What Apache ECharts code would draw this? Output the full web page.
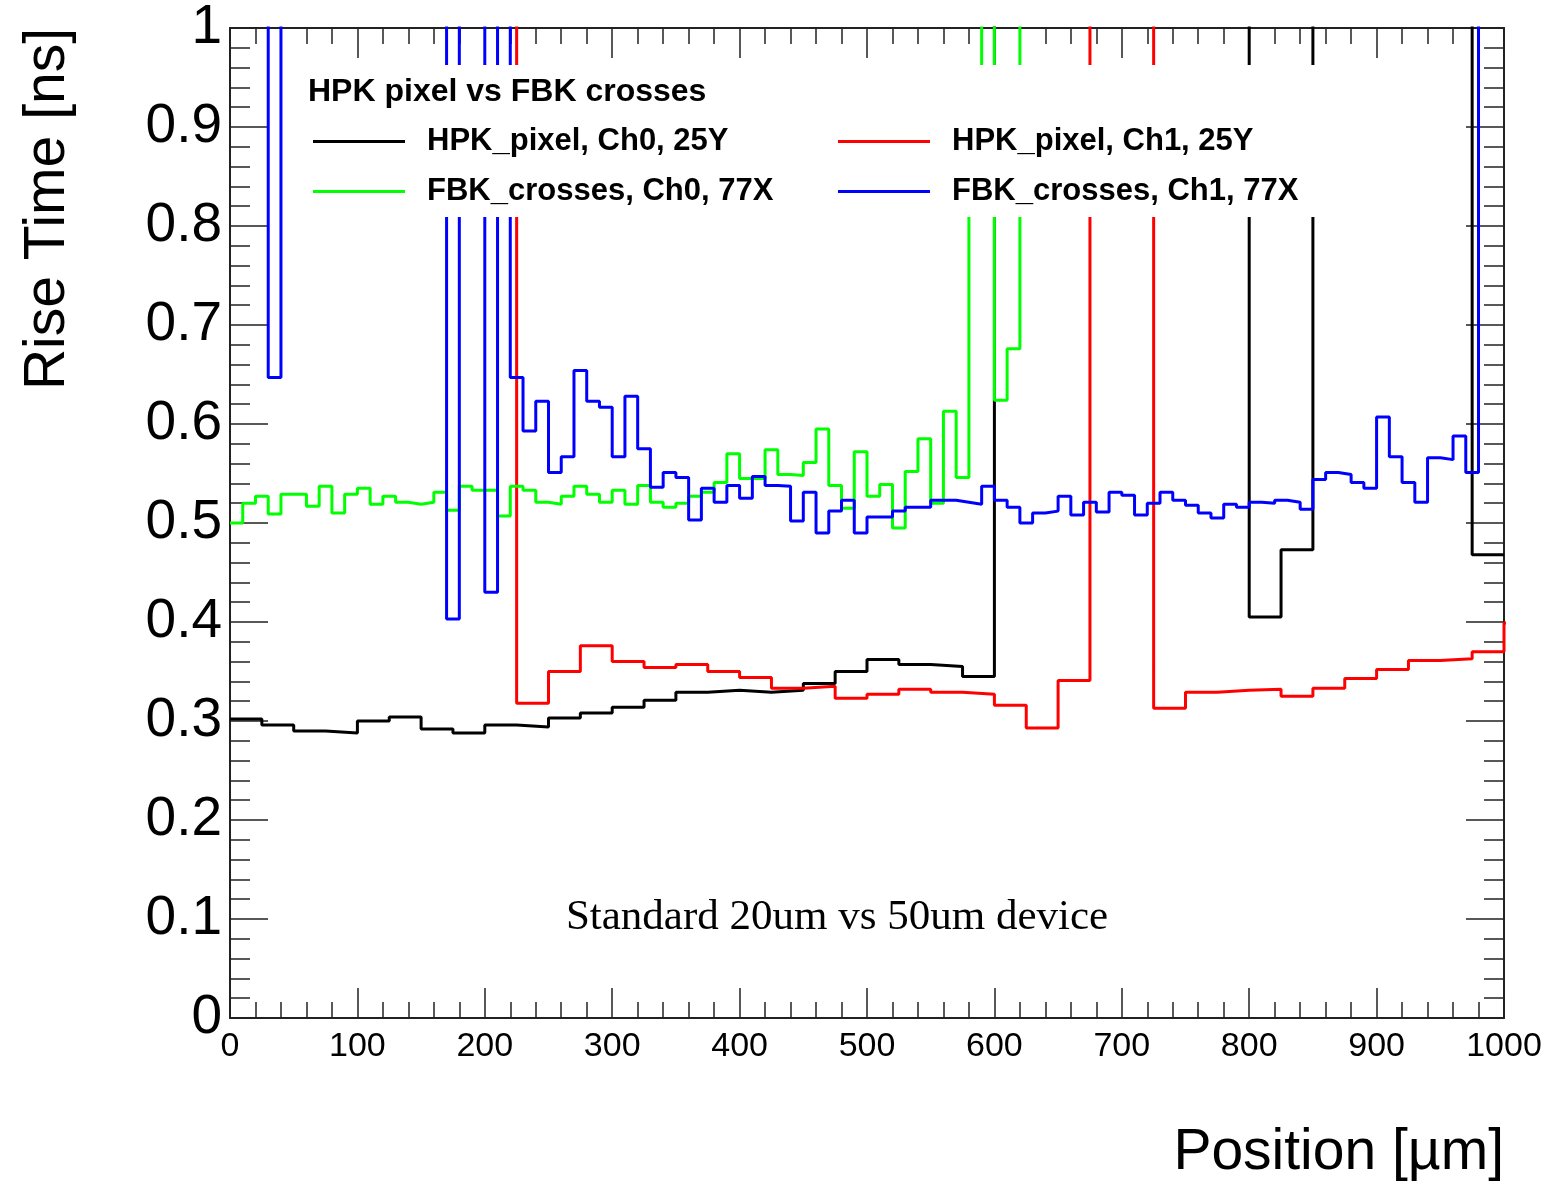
<!DOCTYPE html>
<html>
<head>
<meta charset="utf-8">
<script src="https://cdn.jsdelivr.net/npm/echarts@6/dist/echarts.min.js"></script>
<style>
html,body{margin:0;padding:0;background:#fff;}
#chart{width:1552px;height:1188px;}
</style>
</head>
<body>
<div id="chart"></div>
<script>
// Off-scale value (> 1 ns, above the plotted frame)
const OFF = 1.5;
const coarseBinWidth = 25; // HPK histograms
const fineBinWidth = 10;   // FBK histograms

const seriesNames = ['HPK_pixel, Ch0, 25Y', 'HPK_pixel, Ch1, 25Y', 'FBK_crosses, Ch0, 77X', 'FBK_crosses, Ch1, 77X'];
const seriesColors = ['#000000', '#ff0000', '#00ff00', '#0000ff'];

const hpkCh0 = [
  0.302, 0.296, 0.290, 0.288, 0.300, 0.304, 0.292, 0.288, 0.296, 0.294,
  0.303, 0.308, 0.314, 0.321, 0.329, 0.331, 0.329, 0.331, 0.338, 0.350,
  0.362, 0.357, 0.355, 0.345, OFF, OFF, OFF, OFF, OFF, OFF,
  OFF, OFF, 0.405, 0.473, OFF, OFF, OFF, OFF, OFF, 0.468
];
const hpkCh1 = [
  OFF, OFF, OFF, OFF, OFF, OFF, OFF, OFF, OFF, 0.318,
  0.350, 0.376, 0.360, 0.354, 0.357, 0.350, 0.344, 0.333, 0.335, 0.323,
  0.327, 0.332, 0.329, 0.327, 0.316, 0.293, 0.341, OFF, OFF, 0.313,
  0.329, 0.331, 0.332, 0.325, 0.333, 0.343, 0.352, 0.361, 0.363, 0.370,
  0.399
];
const fbkCh0 = [
  0.500, 0.520, 0.527, 0.509, 0.529, 0.529, 0.517, 0.537, 0.510, 0.529,
  0.535, 0.519, 0.527, 0.521, 0.519, 0.521, 0.531, 0.513, 0.537, 0.533,
  0.533, 0.507, 0.537, 0.533, 0.521, 0.519, 0.527, 0.537, 0.529, 0.521,
  0.533, 0.519, 0.538, 0.521, 0.516, 0.520, 0.527, 0.531, 0.541, 0.570,
  0.545, 0.545, 0.574, 0.549, 0.548, 0.561, 0.595, 0.538, 0.515, 0.572,
  0.527, 0.539, 0.495, 0.552, 0.585, 0.520, 0.613, 0.546, 0.880, OFF,
  0.624, 0.676, OFF, OFF, OFF, OFF, OFF, OFF, OFF, OFF,
  OFF, OFF, OFF, OFF, OFF, OFF, OFF, OFF, OFF, OFF,
  OFF, OFF, OFF, OFF, OFF, OFF, OFF, OFF, OFF, OFF,
  OFF, OFF, OFF, OFF, OFF, OFF, OFF, OFF, OFF, OFF
];
const fbkCh1 = [
  OFF, OFF, OFF, 0.647, OFF, OFF, OFF, OFF, OFF, OFF,
  OFF, OFF, OFF, OFF, OFF, OFF, OFF, 0.403, OFF, OFF,
  0.430, OFF, 0.647, 0.593, 0.623, 0.551, 0.567, 0.654, 0.623, 0.617,
  0.567, 0.628, 0.575, 0.536, 0.551, 0.546, 0.503, 0.535, 0.521, 0.538,
  0.525, 0.547, 0.538, 0.537, 0.502, 0.531, 0.490, 0.512, 0.523, 0.490,
  0.506, 0.506, 0.512, 0.516, 0.516, 0.523, 0.523, 0.521, 0.519, 0.537,
  0.523, 0.516, 0.500, 0.510, 0.512, 0.527, 0.508, 0.521, 0.511, 0.531,
  0.528, 0.508, 0.520, 0.531, 0.523, 0.518, 0.510, 0.505, 0.519, 0.516,
  0.521, 0.520, 0.523, 0.521, 0.514, 0.544, 0.551, 0.549, 0.541, 0.535,
  0.607, 0.567, 0.541, 0.521, 0.566, 0.564, 0.588, 0.551, OFF, OFF
];

const xTicks = {min: 0, max: 1000, interval: 100};
const yTicks = {min: 0, max: 1, interval: 0.1};

const titleText = 'HPK pixel vs FBK crosses';
const xTitle = 'Position [\u00b5m]';
const yTitle = 'Rise Time [ns]';
const noteText = 'Standard 20um vs 50um device';

// histogram -> step polyline points (bin low edges plus final upper edge)
function histPoints(vals, w) {
  const pts = vals.map((v, i) => [i * w, v]);
  pts.push([vals.length * w, vals[vals.length - 1]]);
  return pts;
}

const SANS = '"Liberation Sans", Arial, Helvetica, sans-serif';
const frameColor = '#222';

function xAxisCfg(pos, labels) {
  return {
    type: 'value', position: pos, min: xTicks.min, max: xTicks.max, interval: xTicks.interval,
    axisLine: {show: true, onZero: false, lineStyle: {color: frameColor, width: 2}},
    axisTick: {show: true, inside: true, length: 30, lineStyle: {color: frameColor, width: 1.5}},
    minorTick: {show: true, splitNumber: 5, length: 16, lineStyle: {color: frameColor, width: 1.5}},
    splitLine: {show: false}, minorSplitLine: {show: false},
    axisLabel: {show: labels, color: '#000', fontFamily: SANS, fontSize: 34, margin: 12,
      formatter: v => String(Math.round(v))}
  };
}
function yAxisCfg(pos, labels) {
  return {
    type: 'value', position: pos, min: yTicks.min, max: yTicks.max, interval: yTicks.interval,
    axisLine: {show: true, onZero: false, lineStyle: {color: frameColor, width: 2}},
    axisTick: {show: true, inside: true, length: 38, lineStyle: {color: frameColor, width: 1.5}},
    minorTick: {show: true, splitNumber: 5, length: 20, lineStyle: {color: frameColor, width: 1.5}},
    splitLine: {show: false}, minorSplitLine: {show: false},
    axisLabel: {show: labels, color: '#000', fontFamily: SANS, fontSize: 55, margin: 8,
      formatter: v => (Math.abs(v) < 1e-9 ? '0' : Math.abs(v - 1) < 1e-9 ? '1' : v.toFixed(1))}
  };
}

const histData = [
  histPoints(hpkCh0, coarseBinWidth),
  histPoints(hpkCh1, coarseBinWidth),
  histPoints(fbkCh0, fineBinWidth),
  histPoints(fbkCh1, fineBinWidth)
];

const series = seriesNames.map((name, k) => ({
  name: name, type: 'line', step: 'end', data: histData[k],
  xAxisIndex: 0, yAxisIndex: 0, clip: true,
  symbol: 'none', showSymbol: false, animation: false, silent: true,
  lineStyle: {color: seriesColors[k], width: 3}, itemStyle: {color: seriesColors[k]},
  z: 2 + k
}));

const legendPos = [[313, 126], [838, 126], [313, 176], [838, 176]];
const legends = seriesNames.map((name, k) => ({
  data: [name], left: legendPos[k][0], top: legendPos[k][1], z: 30,
  icon: 'rect', itemWidth: 92, itemHeight: 3, selectedMode: false, padding: 0,
  textStyle: {fontFamily: SANS, fontWeight: 'bold', fontSize: 31, color: '#000', padding: [0, 0, 0, 17]}
}));

const chart = echarts.init(document.getElementById('chart'), null, {renderer: 'canvas'});
chart.setOption({
  backgroundColor: '#fff',
  animation: false,
  grid: {left: 230, top: 28, right: 48, bottom: 170, containLabel: false},
  xAxis: [xAxisCfg('bottom', true), xAxisCfg('top', false)],
  yAxis: [yAxisCfg('left', true), yAxisCfg('right', false)],
  legend: legends,
  series: series,
  graphic: [
    {type: 'rect', z: 20, shape: {x: 296, y: 65, width: 1034, height: 152}, style: {fill: '#fff'}, silent: true},
    {type: 'text', z: 30, x: 308, y: 92, style: {text: titleText, font: 'bold 32px ' + SANS, fill: '#000', verticalAlign: 'middle', align: 'left'}},
    {type: 'text', z: 30, x: 48, y: 28, rotation: Math.PI / 2, style: {text: yTitle, font: '57px ' + SANS, fill: '#000', align: 'right', verticalAlign: 'middle'}},
    {type: 'text', z: 30, x: 1504, y: 1153, style: {text: xTitle, font: '57px ' + SANS, fill: '#000', align: 'right', verticalAlign: 'middle'}},
    {type: 'text', z: 30, x: 837, y: 918, style: {text: noteText, font: '43px "Liberation Serif", "Times New Roman", serif', fill: '#000', align: 'center', verticalAlign: 'middle'}}
  ]
});
</script>
</body>
</html>
